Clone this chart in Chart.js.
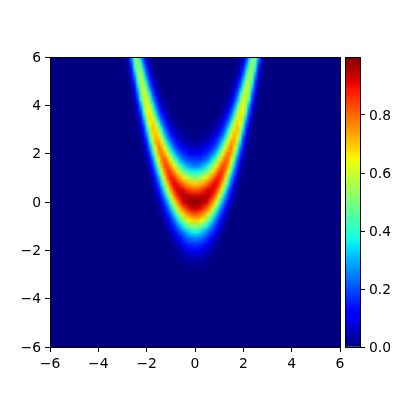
<!DOCTYPE html>
<html>
<head>
<meta charset="utf-8">
<style>
html,body{margin:0;padding:0;background:#fff;width:400px;height:400px;overflow:hidden}
canvas{position:absolute;left:0;top:0}
</style>
<script src="https://cdn.jsdelivr.net/npm/chart.js@4"></script>
</head>
<body>
<canvas id="heat" width="400" height="400"></canvas>
<canvas id="bar" width="400" height="400"></canvas>
<script>
// Right half of the symmetric field, in percent of the colour range.
// Rows may stop early: cells past the end of a row are zero.
const xColumns = [0,0.125,0.25,0.375,0.5,0.625,0.75,0.875,1,1.125,1.25,1.375,1.5,1.625,1.75,1.875,2,2.125,2.25,2.375,2.5,2.625,2.75,2.875];
const yRows = [6,5.75,5.5,5.25,5,4.75,4.5,4.25,4,3.75,3.5,3.25,3,2.75,2.5,2.25,2,1.75,1.5,1.25,1,0.75,0.5,0.25,0,-0.25,-0.5,-0.75,-1,-1.25,-1.5,-1.75,-2,-2.25,-2.5,-2.75];
const heatRows = [
[0,0,0,0,0,0,0,0,0,0,0,0,0,0,0,2,7,16,33,49,49,29,10,2],
[0,0,0,0,0,0,0,0,0,0,0,0,0,0,1,4,12,23,42,53,43,21,7,1],
[0,0,0,0,0,0,0,0,0,0,0,0,0,0,2,8,16,33,50,53,36,14,4],
[0,0,0,0,0,0,0,0,0,0,0,0,0,1,5,13,24,43,56,48,27,10,2],
[0,0,0,0,0,0,0,0,0,0,0,0,1,3,9,18,34,51,57,41,19,7,1],
[0,0,0,0,0,0,0,0,0,0,0,0,2,6,14,26,45,59,53,33,13,4],
[0,0,0,0,0,0,0,0,0,0,0,2,4,11,20,37,54,61,46,24,9,2],
[0,0,0,0,0,0,0,0,0,0,1,3,9,16,29,48,62,58,38,17,6,1],
[0,0,0,0,0,0,0,0,0,1,3,7,14,24,41,57,65,50,28,12,3],
[0,0,0,0,0,0,0,0,1,2,6,12,20,34,52,65,62,42,20,8,1],
[0,0,0,0,0,0,0,1,2,5,11,18,29,47,62,68,54,32,13,4,1],
[0,0,0,0,0,1,1,2,5,10,17,26,41,58,69,64,45,22,9,2],
[0,0,0,1,1,2,3,5,10,16,24,37,55,67,71,56,34,15,6,1],
[1,1,1,2,2,4,6,10,16,22,34,51,65,73,66,47,24,11,3],
[2,3,3,4,5,8,12,17,22,33,48,63,74,73,57,36,16,7,1],
[5,6,7,8,11,14,18,23,33,47,62,73,78,66,47,25,12,3],
[11,11,13,15,17,21,26,35,47,61,72,79,74,57,35,17,7,1],
[18,18,19,21,24,30,38,49,62,72,81,79,65,45,24,12,4,1],
[25,25,28,31,36,44,53,65,74,83,83,72,55,33,17,7,2],
[37,38,40,45,51,59,68,76,85,86,77,61,41,23,12,4,1],
[52,54,56,61,67,73,80,87,89,82,67,49,29,16,7,2],
[69,70,72,75,80,85,90,91,85,71,55,36,20,11,3,1],
[82,83,85,88,92,93,92,86,74,60,41,25,14,6,2],
[94,94,95,95,96,92,86,75,62,45,29,17,9,3,1],
[99,99,97,95,92,84,74,63,47,31,20,11,4,1],
[94,93,90,86,80,72,61,47,33,21,14,6,2],
[82,81,78,74,67,57,46,33,22,15,8,3,1],
[69,68,65,59,51,42,32,22,16,9,4,1],
[52,51,48,43,36,29,22,16,10,5,2],
[37,36,33,29,24,20,15,10,5,2,1],
[25,24,23,21,17,13,9,5,2,1],
[18,17,16,14,11,8,4,2,1],
[11,10,9,8,5,4,2,1],
[5,5,5,4,2,2,1],
[2,2,2,2,1],
[1,1,1]
];
const axisTicks = [-6,-4,-2,0,2,4,6];
const colorbarTicks = [0,0.2,0.4,0.6,0.8];
const colorbarTop = 1;

// matplotlib "jet" segments
const jetR = [[0,0],[0.35,0],[0.66,1],[0.89,1],[1,0.5]];
const jetG = [[0,0],[0.125,0],[0.375,1],[0.64,1],[0.91,0],[1,0]];
const jetB = [[0,0.5],[0.11,1],[0.34,1],[0.65,0],[1,0]];
function seg(s,v){
  for(let i=1;i<s.length;i++){
    if(v<=s[i][0]){
      const t=(v-s[i-1][0])/(s[i][0]-s[i-1][0]);
      return s[i-1][1]+t*(s[i][1]-s[i-1][1]);
    }
  }
  return s[s.length-1][1];
}
function jet(v){
  v=Math.max(0,Math.min(1,v));
  return [seg(jetR,v),seg(jetG,v),seg(jetB,v)].map(c=>Math.round(c*255));
}
const css=c=>`rgb(${c[0]},${c[1]},${c[2]})`;

const cells=[];
yRows.forEach((y,r)=>xColumns.forEach((x,c)=>{
  const v=(heatRows[r][c]||0)/100;
  if(v<=0) return;
  cells.push({x,y,v});
  if(x!==0) cells.push({x:-x,y,v});
}));

const FONT={family:'"DejaVu Sans"',size:13.9};
const fmt=v=>String(v).replace('-','\u2212');

const frame={id:'frame',afterDraw(chart){
  const a=chart.chartArea,ctx=chart.ctx;
  ctx.save();ctx.strokeStyle='#000';ctx.lineWidth=1;
  ctx.strokeRect(Math.round(a.left)+0.5,Math.round(a.top)+0.5,Math.round(a.right-a.left),Math.round(a.bottom-a.top));
  ctx.restore();
}};

// Paints the grid as an image placed with the chart's own scales.
const STEP_X=0.125,STEP_Y=0.25,XMIN=-6,YMAX=6;
const heatmap={id:'heatmap',beforeDatasetsDraw(chart){
  const w=97,h=49;
  const off=document.createElement('canvas');off.width=w;off.height=h;
  const o=off.getContext('2d');
  o.fillStyle=css(jet(0));o.fillRect(0,0,w,h);
  chart.data.datasets[0].data.forEach(p=>{
    o.fillStyle=css(jet(p.v));
    o.fillRect(Math.round((p.x-XMIN)/STEP_X),Math.round((YMAX-p.y)/STEP_Y),1,1);
  });
  const X=chart.scales.x,Y=chart.scales.y,a=chart.chartArea,ctx=chart.ctx;
  const l=X.getPixelForValue(XMIN-STEP_X/2),r=X.getPixelForValue(-XMIN+STEP_X/2);
  const t=Y.getPixelForValue(YMAX+STEP_Y/2),b=Y.getPixelForValue(-YMAX-STEP_Y/2);
  ctx.save();
  ctx.beginPath();ctx.rect(a.left,a.top,a.right-a.left,a.bottom-a.top);ctx.clip();
  ctx.imageSmoothingEnabled=true;ctx.imageSmoothingQuality='low';
  ctx.drawImage(off,l,t,r-l,b-t);
  ctx.restore();
}};

function axis(extra,offset){
  return Object.assign({
    min:-6,max:6,
    grid:{drawOnChartArea:false,tickLength:5,color:'#000',lineWidth:1},
    border:{display:true,color:'#000',width:1},
    afterBuildTicks(s){s.ticks=axisTicks.map(value=>({value}));},
    ticks:{autoSkip:false,maxRotation:0,color:'#000',font:FONT,padding:4,labelOffset:offset,callback:v=>fmt(v)}
  },extra);
}

new Chart(document.getElementById('heat'),{
  type:'scatter',
  data:{datasets:[{data:cells,pointRadius:0,pointHoverRadius:0}]},
  plugins:[heatmap,frame],
  options:{
    responsive:false,animation:false,events:[],
    layout:{padding:{top:57,right:60,left:0,bottom:0}},
    plugins:{legend:{display:false},tooltip:{enabled:false}},
    scales:{
      x:axis({type:'linear',afterFit(s){s.height=53;}},0),
      y:axis({type:'linear',afterFit(s){s.width=50;}},1)
    }
  }
});

function barFill(ctx){
  const chart=ctx.chart,Y=chart.scales.y;
  if(!Y||!chart.chartArea) return css(jet(1));
  const g=chart.ctx.createLinearGradient(0,Y.getPixelForValue(0),0,Y.getPixelForValue(colorbarTop));
  for(let i=0;i<=256;i++){g.addColorStop(i/256,css(jet(i/256)));}
  return g;
}

new Chart(document.getElementById('bar'),{
  type:'bar',
  data:{labels:['scale'],datasets:[{data:[colorbarTop],backgroundColor:barFill,borderWidth:0,barPercentage:1,categoryPercentage:1}]},
  plugins:[frame],
  options:{
    responsive:false,animation:false,events:[],
    layout:{padding:{top:57,left:345,right:0,bottom:53}},
    plugins:{legend:{display:false},tooltip:{enabled:false}},
    scales:{
      x:{display:false},
      y:{
        position:'right',min:0,max:colorbarTop,
        grid:{drawOnChartArea:false,tickLength:5,color:'#000',lineWidth:1},
        border:{display:true,color:'#000',width:1},
        afterBuildTicks(s){s.ticks=colorbarTicks.map(value=>({value}));},
        afterFit(s){s.width=40;},
        ticks:{autoSkip:false,color:'#000',font:FONT,padding:4,labelOffset:1,callback:v=>v.toFixed(1)}
      }
    }
  }
});
</script>
</body>
</html>
